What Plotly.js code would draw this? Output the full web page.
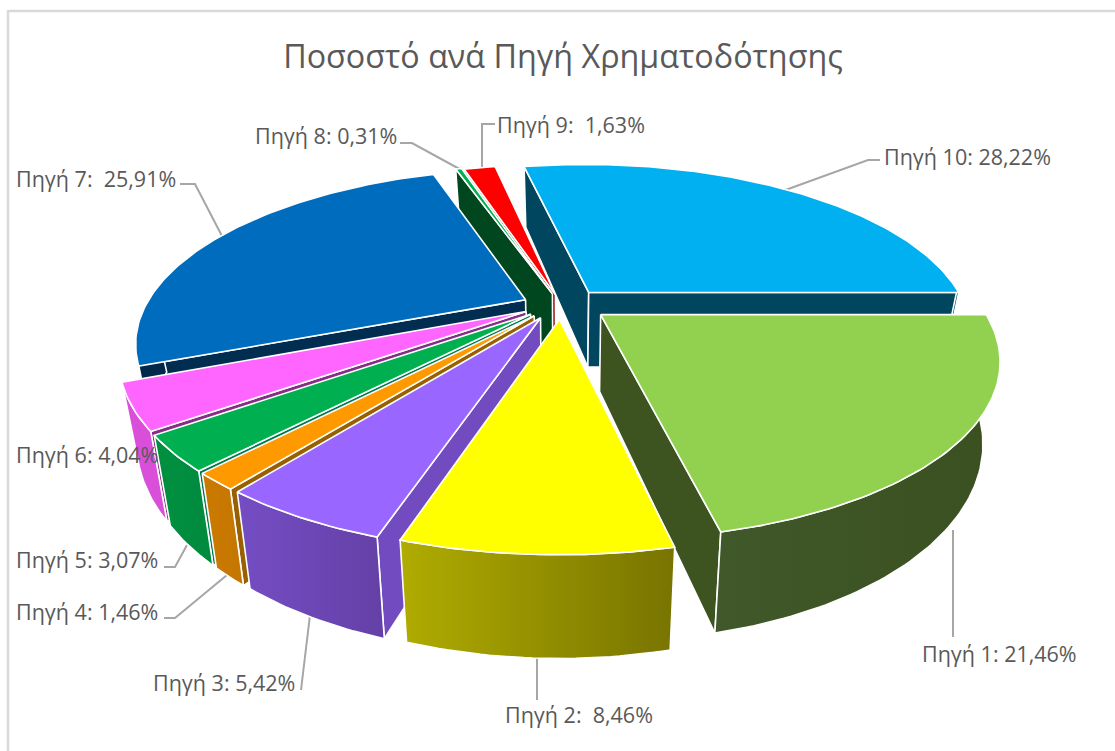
<!DOCTYPE html>
<html><head><meta charset="utf-8">
<script src="https://cdn.plot.ly/plotly-3.0.1.min.js"></script>
<style>html,body{margin:0;padding:0;background:#fff}#c{width:1115px;height:751px}</style></head>
<body><div id="c"></div>
<script>
const sources=["Πηγή 1","Πηγή 2","Πηγή 3","Πηγή 4","Πηγή 5","Πηγή 6","Πηγή 7","Πηγή 8","Πηγή 9","Πηγή 10"];
const shares=[21.46,8.46,5.42,1.46,3.07,4.04,25.91,0.31,1.63,28.22];
const valueTexts=["21,46%"," 8,46%","5,42%","1,46%","3,07%","4,04%"," 25,91%","0,31%"," 1,63%","28,22%"];
const topColors=["#92D050","#FFFF00","#9966FF","#FF9900","#00B050","#FF66FF","#006CBD","#00B050","#FF0000","#00B0F0"];
const rimFrom=["#40582A","#B0AC00","#754DC4","#CC7A00","#009040","#D94FD9","#00284A","#00461F","#8A0000","#00465F"];
const rimTo=["#3B5020","#787400","#6440A6","#C47600","#008A3E","#D94FD9","#00284A","#00461F","#8A0000","#00465F"];
const sideColors=["#3D5421","#8C8A10","#724BC0","#996000","#007A50","#862E86","#002D50","#00461F","#8A0000","#00465F"];
const shiftX=[16,4,0,0,0,0,0,6,7,10];
const shiftY=[1,0,0,0,0,0,2,4,5,0];
const radius=[0.98,1,1,1,1,1,0.98,1,1,0.97];
const labelX=[920,503,151,14,14,14,14,253,495,882];
const labelY=[653,714,682,611,559,454,178,135,124,156];
const leaders=[[[953,530],[953,637]],[[537,655],[537,700]],[[310,615],[301,690]],[[227,575],[175,618],[164,618]],[[187,545],[175,567],[164,567]],[],[[223,238],[195,184],[180,184]],[[465,172],[412,143],[400,143]],[[482,170],[482,124],[495,124]],[[780,192],[868,160],[880,160]]];
const firstAngle=90;
const cx=557,cy=304,R=388,Ry=168.5,k=0.2455,ex=0.09,D=76,shrink=0.96;
const total=shares.reduce((a,b)=>a+b,0),rad=Math.PI/180;
function proj(s,a,r,low){
  const X=ex*Math.sin(s.bis)+r*radius[s.i]*Math.sin(a),Y=-ex*Math.cos(s.bis)-r*radius[s.i]*Math.cos(a),w=1/(1-k*Y);
  let x=cx+R*X*w,y=cy+Ry*Y*w;
  if(low){x=cx+(x-cx)*shrink;y+=D*w;}
  return [x+shiftX[s.i],y+shiftY[s.i]];
}
let start=firstAngle;
const slices=shares.map((v,i)=>{const span=v/total*360,s={i,a0:start*rad,a1:(start+span)*rad,bis:(start+span/2)*rad};start+=span;return s;});
function poly(pts,color,extra){
  return Object.assign({type:"scatter",mode:"lines",x:pts.map(p=>p[0]),y:pts.map(p=>p[1]),fill:"toself",fillcolor:color,line:{color:"#fff",width:1.6},hoverinfo:"skip"},extra||{});
}
function area(p){let s=0;p.forEach((q,i)=>{const n=p[(i+1)%p.length];s+=q[0]*n[1]-n[0]*q[1];});return s;}
const traces=[];
leaders.forEach(l=>{if(l.length)traces.push({type:"scatter",mode:"lines",x:l.map(p=>p[0]),y:l.map(p=>p[1]),line:{color:"#A6A6A6",width:2},hoverinfo:"skip"});});
slices.slice().sort((p,q)=>Math.cos(q.bis)-Math.cos(p.bis)).forEach(s=>{
  const arc=[],n=Math.max(2,Math.ceil((s.a1-s.a0)/rad));
  for(let j=0;j<=n;j++)arc.push(s.a0+(s.a1-s.a0)*j/n);
  const topRim=arc.map(a=>proj(s,a,1,false));
  const apex=proj(s,0,0,false),apexLow=proj(s,0,0,true);
  [[s.a0,1],[s.a1,-1]].forEach(([a,sign])=>{
    const wall=[apex,proj(s,a,1,false),proj(s,a,1,true),apexLow];
    if(area(wall)*sign<0)traces.push(poly(wall.concat([apex]),sideColors[s.i]));
  });
  const front=arc.filter(a=>Math.cos(a)<0.03);
  if(front.length>1){
    const up=front.map(a=>proj(s,a,1,false)),lo=front.map(a=>proj(s,a,1,true)).reverse();
    const rim=up.concat(lo,[up[0]]),xs=rim.map(p=>p[0]);
    traces.push(poly(rim,rimFrom[s.i],{fillgradient:{type:"horizontal",start:Math.min(...xs),stop:Math.max(...xs),colorscale:[[0,rimFrom[s.i]],[1,rimTo[s.i]]]}}));
  }
  traces.push(poly([apex].concat(topRim,[apex]),topColors[s.i]));
});
const annotations=sources.map((n,i)=>({xref:"x",yref:"y",x:labelX[i],y:labelY[i],xanchor:"left",yanchor:"middle",showarrow:false,text:n+": "+valueTexts[i],font:{family:"Open Sans, sans-serif",size:21.5,color:"#595959"}}));
const layout={width:1115,height:751,margin:{l:0,r:0,t:0,b:0},paper_bgcolor:"#fff",plot_bgcolor:"#fff",showlegend:false,hovermode:false,
  title:{text:"Ποσοστό ανά Πηγή Χρηματοδότησης",x:563/1115,xanchor:"center",y:1-57/751,yanchor:"middle",font:{family:"Open Sans, sans-serif",size:32.3,color:"#595959"}},
  xaxis:{range:[0,1115],visible:false,fixedrange:true},yaxis:{range:[751,0],visible:false,fixedrange:true},
  annotations,
  shapes:[{type:"line",xref:"x",yref:"y",x0:8,x1:8,y0:10,y1:751,line:{color:"#D9D9D9",width:2.5}},{type:"line",xref:"x",yref:"y",x0:8,x1:1115,y0:11,y1:11,line:{color:"#D9D9D9",width:2.5}}]};
Plotly.newPlot("c",traces,layout,{displayModeBar:false,staticPlot:true});
</script></body></html>
